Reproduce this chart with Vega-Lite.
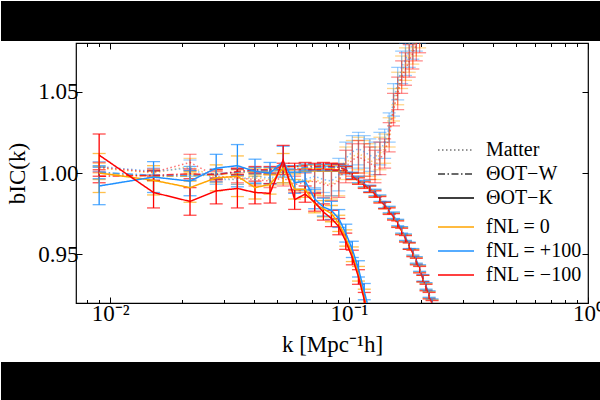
{
  "$schema": "https://vega.github.io/schema/vega-lite/v6.json",
  "background": "white",
  "padding": 0,
  "spacing": 0,
  "config": {
    "font": "Liberation Serif",
    "view": {"stroke": null},
    "axis": {
      "domain": false,
      "grid": false,
      "labelFlush": false,
      "tickColor": "black",
      "tickWidth": 1,
      "labelColor": "black",
      "titleColor": "black",
      "labelFont": "Liberation Serif",
      "titleFont": "Liberation Serif",
      "labelFontSize": 23,
      "titleFontSize": 23,
      "titleFontWeight": "normal"
    },
    "legend": {
      "labelFont": "Liberation Serif",
      "labelFontSize": 20,
      "labelColor": "black",
      "symbolType": "M-3.6,0H3.6",
      "symbolSize": 100,
      "symbolStrokeWidth": 1.5,
      "symbolOpacity": 1,
      "labelOffset": 20,
      "rowPadding": 4,
      "padding": 0,
      "orient": "none"
    }
  },
  "datasets": {
    "bias": [
      {"k":0.0090,"b":1.003,"err":0.003,"est":"matter","fnl":"0"},
      {"k":0.0152,"b":1.000,"err":0.002,"est":"matter","fnl":"0"},
      {"k":0.0216,"b":1.004,"err":0.005,"est":"matter","fnl":"0"},
      {"k":0.0278,"b":0.997,"err":0.003,"est":"matter","fnl":"0"},
      {"k":0.0341,"b":0.996,"err":0.003,"est":"matter","fnl":"0"},
      {"k":0.0404,"b":0.997,"err":0.004,"est":"matter","fnl":"0"},
      {"k":0.0467,"b":0.996,"err":0.004,"est":"matter","fnl":"0"},
      {"k":0.0530,"b":0.998,"err":0.005,"est":"matter","fnl":"0"},
      {"k":0.0592,"b":0.994,"err":0.005,"est":"matter","fnl":"0"},
      {"k":0.0655,"b":0.995,"err":0.006,"est":"matter","fnl":"0"},
      {"k":0.0718,"b":0.996,"err":0.007,"est":"matter","fnl":"0"},
      {"k":0.0781,"b":0.994,"err":0.008,"est":"matter","fnl":"0"},
      {"k":0.0844,"b":0.993,"err":0.009,"est":"matter","fnl":"0"},
      {"k":0.0906,"b":0.996,"err":0.010,"est":"matter","fnl":"0"},
      {"k":0.0969,"b":1.006,"err":0.010,"est":"matter","fnl":"0"},
      {"k":0.1032,"b":1.010,"err":0.010,"est":"matter","fnl":"0"},
      {"k":0.1095,"b":1.012,"err":0.010,"est":"matter","fnl":"0"},
      {"k":0.1158,"b":1.010,"err":0.010,"est":"matter","fnl":"0"},
      {"k":0.1221,"b":1.008,"err":0.010,"est":"matter","fnl":"0"},
      {"k":0.1284,"b":1.006,"err":0.010,"est":"matter","fnl":"0"},
      {"k":0.1346,"b":1.012,"err":0.010,"est":"matter","fnl":"0"},
      {"k":0.1409,"b":1.015,"err":0.009,"est":"matter","fnl":"0"},
      {"k":0.1472,"b":1.025,"err":0.009,"est":"matter","fnl":"0"},
      {"k":0.1535,"b":1.042,"err":0.010,"est":"matter","fnl":"0"},
      {"k":0.1598,"b":1.052,"err":0.010,"est":"matter","fnl":"0"},
      {"k":0.1660,"b":1.062,"err":0.010,"est":"matter","fnl":"0"},
      {"k":0.1723,"b":1.067,"err":0.010,"est":"matter","fnl":"0"},
      {"k":0.1786,"b":1.072,"err":0.010,"est":"matter","fnl":"0"},
      {"k":0.1849,"b":1.077,"err":0.010,"est":"matter","fnl":"0"},
      {"k":0.1912,"b":1.082,"err":0.010,"est":"matter","fnl":"0"},
      {"k":0.1974,"b":1.087,"err":0.010,"est":"matter","fnl":"0"},

      {"k":0.0090,"b":1.004,"err":0.003,"est":"matter","fnl":"+100"},
      {"k":0.0152,"b":1.001,"err":0.002,"est":"matter","fnl":"+100"},
      {"k":0.0216,"b":1.003,"err":0.005,"est":"matter","fnl":"+100"},
      {"k":0.0278,"b":0.996,"err":0.003,"est":"matter","fnl":"+100"},
      {"k":0.0341,"b":0.996,"err":0.003,"est":"matter","fnl":"+100"},
      {"k":0.0404,"b":0.998,"err":0.004,"est":"matter","fnl":"+100"},
      {"k":0.0467,"b":0.997,"err":0.004,"est":"matter","fnl":"+100"},
      {"k":0.0530,"b":0.999,"err":0.005,"est":"matter","fnl":"+100"},
      {"k":0.0592,"b":0.995,"err":0.005,"est":"matter","fnl":"+100"},
      {"k":0.0655,"b":0.996,"err":0.006,"est":"matter","fnl":"+100"},
      {"k":0.0718,"b":0.998,"err":0.007,"est":"matter","fnl":"+100"},
      {"k":0.0781,"b":0.996,"err":0.008,"est":"matter","fnl":"+100"},
      {"k":0.0844,"b":0.995,"err":0.009,"est":"matter","fnl":"+100"},
      {"k":0.0906,"b":0.999,"err":0.010,"est":"matter","fnl":"+100"},
      {"k":0.0969,"b":1.009,"err":0.010,"est":"matter","fnl":"+100"},
      {"k":0.1032,"b":1.013,"err":0.010,"est":"matter","fnl":"+100"},
      {"k":0.1095,"b":1.015,"err":0.010,"est":"matter","fnl":"+100"},
      {"k":0.1158,"b":1.013,"err":0.010,"est":"matter","fnl":"+100"},
      {"k":0.1221,"b":1.011,"err":0.010,"est":"matter","fnl":"+100"},
      {"k":0.1284,"b":1.009,"err":0.010,"est":"matter","fnl":"+100"},
      {"k":0.1346,"b":1.015,"err":0.010,"est":"matter","fnl":"+100"},
      {"k":0.1409,"b":1.018,"err":0.009,"est":"matter","fnl":"+100"},
      {"k":0.1472,"b":1.028,"err":0.009,"est":"matter","fnl":"+100"},
      {"k":0.1535,"b":1.045,"err":0.010,"est":"matter","fnl":"+100"},
      {"k":0.1598,"b":1.055,"err":0.010,"est":"matter","fnl":"+100"},
      {"k":0.1660,"b":1.065,"err":0.010,"est":"matter","fnl":"+100"},
      {"k":0.1723,"b":1.070,"err":0.010,"est":"matter","fnl":"+100"},
      {"k":0.1786,"b":1.075,"err":0.010,"est":"matter","fnl":"+100"},
      {"k":0.1849,"b":1.080,"err":0.010,"est":"matter","fnl":"+100"},
      {"k":0.1912,"b":1.085,"err":0.010,"est":"matter","fnl":"+100"},
      {"k":0.1974,"b":1.090,"err":0.010,"est":"matter","fnl":"+100"},

      {"k":0.0090,"b":1.0035,"err":0.003,"est":"matter","fnl":"-100"},
      {"k":0.0152,"b":1.0005,"err":0.002,"est":"matter","fnl":"-100"},
      {"k":0.0216,"b":1.0065,"err":0.005,"est":"matter","fnl":"-100"},
      {"k":0.0278,"b":0.998,"err":0.003,"est":"matter","fnl":"-100"},
      {"k":0.0341,"b":0.997,"err":0.003,"est":"matter","fnl":"-100"},
      {"k":0.0404,"b":0.996,"err":0.004,"est":"matter","fnl":"-100"},
      {"k":0.0467,"b":0.995,"err":0.004,"est":"matter","fnl":"-100"},
      {"k":0.0530,"b":0.997,"err":0.005,"est":"matter","fnl":"-100"},
      {"k":0.0592,"b":0.993,"err":0.005,"est":"matter","fnl":"-100"},
      {"k":0.0655,"b":0.994,"err":0.006,"est":"matter","fnl":"-100"},
      {"k":0.0718,"b":0.995,"err":0.007,"est":"matter","fnl":"-100"},
      {"k":0.0781,"b":0.993,"err":0.008,"est":"matter","fnl":"-100"},
      {"k":0.0844,"b":0.992,"err":0.009,"est":"matter","fnl":"-100"},
      {"k":0.0906,"b":0.995,"err":0.010,"est":"matter","fnl":"-100"},
      {"k":0.0969,"b":1.004,"err":0.010,"est":"matter","fnl":"-100"},
      {"k":0.1032,"b":1.008,"err":0.010,"est":"matter","fnl":"-100"},
      {"k":0.1095,"b":1.010,"err":0.010,"est":"matter","fnl":"-100"},
      {"k":0.1158,"b":1.008,"err":0.010,"est":"matter","fnl":"-100"},
      {"k":0.1221,"b":1.006,"err":0.010,"est":"matter","fnl":"-100"},
      {"k":0.1284,"b":1.004,"err":0.010,"est":"matter","fnl":"-100"},
      {"k":0.1346,"b":1.009,"err":0.010,"est":"matter","fnl":"-100"},
      {"k":0.1409,"b":1.012,"err":0.009,"est":"matter","fnl":"-100"},
      {"k":0.1472,"b":1.022,"err":0.009,"est":"matter","fnl":"-100"},
      {"k":0.1535,"b":1.039,"err":0.010,"est":"matter","fnl":"-100"},
      {"k":0.1598,"b":1.049,"err":0.010,"est":"matter","fnl":"-100"},
      {"k":0.1660,"b":1.059,"err":0.010,"est":"matter","fnl":"-100"},
      {"k":0.1723,"b":1.064,"err":0.010,"est":"matter","fnl":"-100"},
      {"k":0.1786,"b":1.069,"err":0.010,"est":"matter","fnl":"-100"},
      {"k":0.1849,"b":1.074,"err":0.010,"est":"matter","fnl":"-100"},
      {"k":0.1912,"b":1.079,"err":0.010,"est":"matter","fnl":"-100"},
      {"k":0.1974,"b":1.084,"err":0.010,"est":"matter","fnl":"-100"},

      {"k":0.0090,"b":1.000,"err":0.004,"est":"otw","fnl":"0"},
      {"k":0.0152,"b":0.998,"err":0.003,"est":"otw","fnl":"0"},
      {"k":0.0216,"b":0.998,"err":0.003,"est":"otw","fnl":"0"},
      {"k":0.0278,"b":0.999,"err":0.003,"est":"otw","fnl":"0"},
      {"k":0.0341,"b":1.000,"err":0.002,"est":"otw","fnl":"0"},
      {"k":0.0404,"b":1.001,"err":0.002,"est":"otw","fnl":"0"},
      {"k":0.0467,"b":1.001,"err":0.002,"est":"otw","fnl":"0"},
      {"k":0.0530,"b":1.002,"err":0.002,"est":"otw","fnl":"0"},
      {"k":0.0592,"b":1.002,"err":0.002,"est":"otw","fnl":"0"},
      {"k":0.0655,"b":1.003,"err":0.002,"est":"otw","fnl":"0"},
      {"k":0.0718,"b":1.003,"err":0.002,"est":"otw","fnl":"0"},
      {"k":0.0781,"b":1.003,"err":0.002,"est":"otw","fnl":"0"},
      {"k":0.0844,"b":1.003,"err":0.002,"est":"otw","fnl":"0"},
      {"k":0.0906,"b":1.003,"err":0.002,"est":"otw","fnl":"0"},
      {"k":0.0969,"b":1.002,"err":0.002,"est":"otw","fnl":"0"},
      {"k":0.1032,"b":0.998,"err":0.002,"est":"otw","fnl":"0"},
      {"k":0.1095,"b":0.9955,"err":0.002,"est":"otw","fnl":"0"},
      {"k":0.1158,"b":0.993,"err":0.002,"est":"otw","fnl":"0"},
      {"k":0.1221,"b":0.990,"err":0.002,"est":"otw","fnl":"0"},
      {"k":0.1284,"b":0.9875,"err":0.002,"est":"otw","fnl":"0"},
      {"k":0.1346,"b":0.984,"err":0.002,"est":"otw","fnl":"0"},
      {"k":0.1409,"b":0.980,"err":0.002,"est":"otw","fnl":"0"},
      {"k":0.1472,"b":0.977,"err":0.002,"est":"otw","fnl":"0"},
      {"k":0.1535,"b":0.9735,"err":0.002,"est":"otw","fnl":"0"},
      {"k":0.1598,"b":0.969,"err":0.002,"est":"otw","fnl":"0"},
      {"k":0.1660,"b":0.9645,"err":0.002,"est":"otw","fnl":"0"},
      {"k":0.1723,"b":0.960,"err":0.002,"est":"otw","fnl":"0"},
      {"k":0.1786,"b":0.955,"err":0.002,"est":"otw","fnl":"0"},
      {"k":0.1849,"b":0.951,"err":0.002,"est":"otw","fnl":"0"},
      {"k":0.1912,"b":0.946,"err":0.002,"est":"otw","fnl":"0"},
      {"k":0.1974,"b":0.941,"err":0.002,"est":"otw","fnl":"0"},
      {"k":0.2037,"b":0.935,"err":0.002,"est":"otw","fnl":"0"},
      {"k":0.2100,"b":0.930,"err":0.002,"est":"otw","fnl":"0"},
      {"k":0.2163,"b":0.925,"err":0.002,"est":"otw","fnl":"0"},
      {"k":0.2226,"b":0.920,"err":0.002,"est":"otw","fnl":"0"},
      {"k":0.2288,"b":0.915,"err":0.002,"est":"otw","fnl":"0"},

      {"k":0.0090,"b":1.0005,"err":0.004,"est":"otw","fnl":"+100"},
      {"k":0.0152,"b":0.9985,"err":0.003,"est":"otw","fnl":"+100"},
      {"k":0.0216,"b":0.9985,"err":0.003,"est":"otw","fnl":"+100"},
      {"k":0.0278,"b":0.9995,"err":0.003,"est":"otw","fnl":"+100"},
      {"k":0.0341,"b":1.0005,"err":0.002,"est":"otw","fnl":"+100"},
      {"k":0.0404,"b":1.0015,"err":0.002,"est":"otw","fnl":"+100"},
      {"k":0.0467,"b":1.0015,"err":0.002,"est":"otw","fnl":"+100"},
      {"k":0.0530,"b":1.0025,"err":0.002,"est":"otw","fnl":"+100"},
      {"k":0.0592,"b":1.0025,"err":0.002,"est":"otw","fnl":"+100"},
      {"k":0.0655,"b":1.0035,"err":0.002,"est":"otw","fnl":"+100"},
      {"k":0.0718,"b":1.0035,"err":0.002,"est":"otw","fnl":"+100"},
      {"k":0.0781,"b":1.0035,"err":0.002,"est":"otw","fnl":"+100"},
      {"k":0.0844,"b":1.0035,"err":0.002,"est":"otw","fnl":"+100"},
      {"k":0.0906,"b":1.0035,"err":0.002,"est":"otw","fnl":"+100"},
      {"k":0.0969,"b":1.0025,"err":0.002,"est":"otw","fnl":"+100"},
      {"k":0.1032,"b":0.9985,"err":0.002,"est":"otw","fnl":"+100"},
      {"k":0.1095,"b":0.996,"err":0.002,"est":"otw","fnl":"+100"},
      {"k":0.1158,"b":0.9935,"err":0.002,"est":"otw","fnl":"+100"},
      {"k":0.1221,"b":0.9905,"err":0.002,"est":"otw","fnl":"+100"},
      {"k":0.1284,"b":0.988,"err":0.002,"est":"otw","fnl":"+100"},
      {"k":0.1346,"b":0.9845,"err":0.002,"est":"otw","fnl":"+100"},
      {"k":0.1409,"b":0.9805,"err":0.002,"est":"otw","fnl":"+100"},
      {"k":0.1472,"b":0.9775,"err":0.002,"est":"otw","fnl":"+100"},
      {"k":0.1535,"b":0.974,"err":0.002,"est":"otw","fnl":"+100"},
      {"k":0.1598,"b":0.9695,"err":0.002,"est":"otw","fnl":"+100"},
      {"k":0.1660,"b":0.965,"err":0.002,"est":"otw","fnl":"+100"},
      {"k":0.1723,"b":0.9605,"err":0.002,"est":"otw","fnl":"+100"},
      {"k":0.1786,"b":0.9555,"err":0.002,"est":"otw","fnl":"+100"},
      {"k":0.1849,"b":0.9515,"err":0.002,"est":"otw","fnl":"+100"},
      {"k":0.1912,"b":0.9465,"err":0.002,"est":"otw","fnl":"+100"},
      {"k":0.1974,"b":0.9415,"err":0.002,"est":"otw","fnl":"+100"},
      {"k":0.2037,"b":0.9355,"err":0.002,"est":"otw","fnl":"+100"},
      {"k":0.2100,"b":0.9305,"err":0.002,"est":"otw","fnl":"+100"},
      {"k":0.2163,"b":0.9255,"err":0.002,"est":"otw","fnl":"+100"},
      {"k":0.2226,"b":0.9205,"err":0.002,"est":"otw","fnl":"+100"},
      {"k":0.2288,"b":0.9155,"err":0.002,"est":"otw","fnl":"+100"},

      {"k":0.0090,"b":0.998,"err":0.004,"est":"otw","fnl":"-100"},
      {"k":0.0152,"b":0.9985,"err":0.003,"est":"otw","fnl":"-100"},
      {"k":0.0216,"b":0.9995,"err":0.003,"est":"otw","fnl":"-100"},
      {"k":0.0278,"b":0.999,"err":0.003,"est":"otw","fnl":"-100"},
      {"k":0.0341,"b":1.001,"err":0.002,"est":"otw","fnl":"-100"},
      {"k":0.0404,"b":1.002,"err":0.002,"est":"otw","fnl":"-100"},
      {"k":0.0467,"b":1.002,"err":0.002,"est":"otw","fnl":"-100"},
      {"k":0.0530,"b":1.004,"err":0.002,"est":"otw","fnl":"-100"},
      {"k":0.0592,"b":1.004,"err":0.002,"est":"otw","fnl":"-100"},
      {"k":0.0655,"b":1.0045,"err":0.002,"est":"otw","fnl":"-100"},
      {"k":0.0718,"b":1.004,"err":0.002,"est":"otw","fnl":"-100"},
      {"k":0.0781,"b":1.0045,"err":0.002,"est":"otw","fnl":"-100"},
      {"k":0.0844,"b":1.004,"err":0.002,"est":"otw","fnl":"-100"},
      {"k":0.0906,"b":1.0035,"err":0.002,"est":"otw","fnl":"-100"},
      {"k":0.0969,"b":1.002,"err":0.002,"est":"otw","fnl":"-100"},
      {"k":0.1032,"b":0.998,"err":0.002,"est":"otw","fnl":"-100"},
      {"k":0.1095,"b":0.995,"err":0.002,"est":"otw","fnl":"-100"},
      {"k":0.1158,"b":0.9925,"err":0.002,"est":"otw","fnl":"-100"},
      {"k":0.1221,"b":0.990,"err":0.002,"est":"otw","fnl":"-100"},
      {"k":0.1284,"b":0.987,"err":0.002,"est":"otw","fnl":"-100"},
      {"k":0.1346,"b":0.9835,"err":0.002,"est":"otw","fnl":"-100"},
      {"k":0.1409,"b":0.980,"err":0.002,"est":"otw","fnl":"-100"},
      {"k":0.1472,"b":0.9765,"err":0.002,"est":"otw","fnl":"-100"},
      {"k":0.1535,"b":0.973,"err":0.002,"est":"otw","fnl":"-100"},
      {"k":0.1598,"b":0.9685,"err":0.002,"est":"otw","fnl":"-100"},
      {"k":0.1660,"b":0.964,"err":0.002,"est":"otw","fnl":"-100"},
      {"k":0.1723,"b":0.9595,"err":0.002,"est":"otw","fnl":"-100"},
      {"k":0.1786,"b":0.955,"err":0.002,"est":"otw","fnl":"-100"},
      {"k":0.1849,"b":0.9505,"err":0.002,"est":"otw","fnl":"-100"},
      {"k":0.1912,"b":0.9455,"err":0.002,"est":"otw","fnl":"-100"},
      {"k":0.1974,"b":0.9405,"err":0.002,"est":"otw","fnl":"-100"},
      {"k":0.2037,"b":0.935,"err":0.002,"est":"otw","fnl":"-100"},
      {"k":0.2100,"b":0.9295,"err":0.002,"est":"otw","fnl":"-100"},
      {"k":0.2163,"b":0.9245,"err":0.002,"est":"otw","fnl":"-100"},
      {"k":0.2226,"b":0.9195,"err":0.002,"est":"otw","fnl":"-100"},
      {"k":0.2288,"b":0.9145,"err":0.002,"est":"otw","fnl":"-100"},

      {"k":0.0090,"b":1.000,"err":0.012,"est":"otk","fnl":"0"},
      {"k":0.0152,"b":0.9955,"err":0.009,"est":"otk","fnl":"0"},
      {"k":0.0216,"b":0.991,"err":0.009,"est":"otk","fnl":"0"},
      {"k":0.0278,"b":0.997,"err":0.008,"est":"otk","fnl":"0"},
      {"k":0.0341,"b":0.998,"err":0.0125,"est":"otk","fnl":"0"},
      {"k":0.0404,"b":0.991,"err":0.007,"est":"otk","fnl":"0"},
      {"k":0.0467,"b":0.993,"err":0.006,"est":"otk","fnl":"0"},
      {"k":0.0530,"b":1.003,"err":0.009,"est":"otk","fnl":"0"},
      {"k":0.0592,"b":0.990,"err":0.006,"est":"otk","fnl":"0"},
      {"k":0.0655,"b":0.990,"err":0.005,"est":"otk","fnl":"0"},
      {"k":0.0718,"b":0.981,"err":0.0055,"est":"otk","fnl":"0"},
      {"k":0.0781,"b":0.978,"err":0.005,"est":"otk","fnl":"0"},
      {"k":0.0844,"b":0.975,"err":0.005,"est":"otk","fnl":"0"},
      {"k":0.0906,"b":0.969,"err":0.005,"est":"otk","fnl":"0"},
      {"k":0.0969,"b":0.960,"err":0.005,"est":"otk","fnl":"0"},
      {"k":0.1032,"b":0.950,"err":0.0045,"est":"otk","fnl":"0"},
      {"k":0.1095,"b":0.938,"err":0.0045,"est":"otk","fnl":"0"},
      {"k":0.1158,"b":0.924,"err":0.0045,"est":"otk","fnl":"0"},
      {"k":0.1221,"b":0.910,"err":0.0045,"est":"otk","fnl":"0"},

      {"k":0.0090,"b":0.992,"err":0.0115,"est":"otk","fnl":"+100"},
      {"k":0.0152,"b":0.9975,"err":0.0095,"est":"otk","fnl":"+100"},
      {"k":0.0216,"b":0.995,"err":0.009,"est":"otk","fnl":"+100"},
      {"k":0.0278,"b":1.003,"err":0.0085,"est":"otk","fnl":"+100"},
      {"k":0.0341,"b":1.0045,"err":0.013,"est":"otk","fnl":"+100"},
      {"k":0.0404,"b":1.001,"err":0.0075,"est":"otk","fnl":"+100"},
      {"k":0.0467,"b":1.000,"err":0.0065,"est":"otk","fnl":"+100"},
      {"k":0.0530,"b":1.007,"err":0.0095,"est":"otk","fnl":"+100"},
      {"k":0.0592,"b":0.994,"err":0.0065,"est":"otk","fnl":"+100"},
      {"k":0.0655,"b":0.995,"err":0.0055,"est":"otk","fnl":"+100"},
      {"k":0.0718,"b":0.984,"err":0.006,"est":"otk","fnl":"+100"},
      {"k":0.0781,"b":0.979,"err":0.0055,"est":"otk","fnl":"+100"},
      {"k":0.0844,"b":0.977,"err":0.0055,"est":"otk","fnl":"+100"},
      {"k":0.0906,"b":0.972,"err":0.0055,"est":"otk","fnl":"+100"},
      {"k":0.0969,"b":0.963,"err":0.0055,"est":"otk","fnl":"+100"},
      {"k":0.1032,"b":0.953,"err":0.005,"est":"otk","fnl":"+100"},
      {"k":0.1095,"b":0.941,"err":0.005,"est":"otk","fnl":"+100"},
      {"k":0.1158,"b":0.927,"err":0.005,"est":"otk","fnl":"+100"},
      {"k":0.1221,"b":0.914,"err":0.005,"est":"otk","fnl":"+100"},

      {"k":0.0090,"b":1.011,"err":0.013,"est":"otk","fnl":"-100"},
      {"k":0.0152,"b":0.988,"err":0.0095,"est":"otk","fnl":"-100"},
      {"k":0.0216,"b":0.9825,"err":0.0085,"est":"otk","fnl":"-100"},
      {"k":0.0278,"b":0.989,"err":0.008,"est":"otk","fnl":"-100"},
      {"k":0.0341,"b":0.9905,"err":0.012,"est":"otk","fnl":"-100"},
      {"k":0.0404,"b":0.988,"err":0.007,"est":"otk","fnl":"-100"},
      {"k":0.0467,"b":0.9875,"err":0.006,"est":"otk","fnl":"-100"},
      {"k":0.0530,"b":1.008,"err":0.009,"est":"otk","fnl":"-100"},
      {"k":0.0592,"b":0.9836,"err":0.006,"est":"otk","fnl":"-100"},
      {"k":0.0655,"b":0.987,"err":0.005,"est":"otk","fnl":"-100"},
      {"k":0.0718,"b":0.982,"err":0.0055,"est":"otk","fnl":"-100"},
      {"k":0.0781,"b":0.976,"err":0.005,"est":"otk","fnl":"-100"},
      {"k":0.0844,"b":0.972,"err":0.005,"est":"otk","fnl":"-100"},
      {"k":0.0906,"b":0.967,"err":0.005,"est":"otk","fnl":"-100"},
      {"k":0.0969,"b":0.958,"err":0.005,"est":"otk","fnl":"-100"},
      {"k":0.1032,"b":0.948,"err":0.0045,"est":"otk","fnl":"-100"},
      {"k":0.1095,"b":0.936,"err":0.0045,"est":"otk","fnl":"-100"},
      {"k":0.1158,"b":0.922,"err":0.0045,"est":"otk","fnl":"-100"},
      {"k":0.1221,"b":0.908,"err":0.0045,"est":"otk","fnl":"-100"}
    ]
  },
  "vconcat": [
    {
      "width": 600,
      "height": 40,
      "view": {"fill": "black", "stroke": null},
      "data": {"values": [{}]},
      "mark": {"type": "rule", "opacity": 0},
      "encoding": {}
    },
    {
      "spacing": 0,
      "hconcat": [
        {
          "width": 5,
          "height": 318,
          "data": {"values": [{}]},
          "mark": {"type": "rule", "opacity": 0},
          "encoding": {}
        },
        {
          "width": 512,
          "height": 260,
          "view": {"stroke": "black", "strokeWidth": 1.2},
          "data": {"name": "bias"},
          "resolve": {"axis": {"x": "independent", "y": "independent"}},
          "layer": [
            {
              "transform": [{"filter": "datum.est == 'matter'"}],
              "mark": {"type": "errorbar", "ticks": {"size": 13}, "thickness": 1.3, "opacity": 0.45, "clip": true},
              "encoding": {
                "x": {"field": "k", "type": "quantitative", "scale": {"type": "log", "domain": [0.0072, 1], "nice": false, "padding": 0}, "axis": null},
                "y": {"field": "b", "type": "quantitative", "scale": {"domain": [0.92, 1.08], "nice": false, "zero": false, "padding": 0}, "axis": null},
                "yError": {"field": "err"},
                "color": {"field": "fnl", "type": "nominal", "scale": {"domain": ["0", "+100", "-100"], "range": ["#ffa500", "#1e90ff", "#ff0000"]}}
              }
            },
            {
              "transform": [{"filter": "datum.est != 'matter'"}],
              "mark": {"type": "errorbar", "ticks": {"size": 13}, "thickness": 1.3, "clip": true},
              "encoding": {
                "x": {"field": "k", "type": "quantitative", "scale": {"type": "log", "domain": [0.0072, 1], "nice": false, "padding": 0}, "axis": null},
                "y": {"field": "b", "type": "quantitative", "scale": {"domain": [0.92, 1.08], "nice": false, "zero": false, "padding": 0}, "axis": null},
                "yError": {"field": "err"},
                "color": {"field": "fnl", "type": "nominal"}
              }
            },
            {
              "mark": {"type": "line", "strokeWidth": 1.5, "clip": true},
              "encoding": {
                "x": {
                  "field": "k", "type": "quantitative",
                  "scale": {"type": "log", "domain": [0.0072, 1], "nice": false, "padding": 0},
                  "axis": {
                    "orient": "bottom",
                    "values": [0.01, 0.1, 1],
                    "labelExpr": "datum.value < 0.05 ? '10⁻²' : datum.value < 0.5 ? '10⁻¹' : '10⁰'",
                    "tickSize": -6,
                    "labelPadding": 5,
                    "title": "k [Mpc⁻¹h]",
                    "titlePadding": 8
                  }
                },
                "y": {
                  "field": "b", "type": "quantitative",
                  "scale": {"domain": [0.92, 1.08], "nice": false, "zero": false, "padding": 0},
                  "axis": {
                    "orient": "left",
                    "values": [0.95, 1.0, 1.05],
                    "format": ".2f",
                    "tickSize": -6,
                    "labelPadding": 4,
                    "title": "bIC(k)",
                    "titlePadding": 8
                  }
                },
                "color": {
                  "field": "fnl", "type": "nominal",
                  "legend": {
                    "legendX": 445, "legendY": 216,
                    "title": null,
                    "symbolType": "M-3.6,0H3.6",
                    "labelExpr": "datum.value == '0' ? 'fNL = 0' : datum.value == '+100' ? 'fNL = +100' : 'fNL = −100'"
                  }
                },
                "strokeDash": {
                  "field": "est", "type": "nominal",
                  "scale": {"domain": ["matter", "otw", "otk"], "range": [[1.5, 2.5], [7, 2.5, 1.5, 2.5], [1, 0]]},
                  "legend": {
                    "legendX": 445, "legendY": 139,
                    "title": null,
                    "symbolType": "M-3.6,0H3.6",
                    "symbolStrokeColor": "black",
                    "labelExpr": "datum.value == 'matter' ? 'Matter' : datum.value == 'otw' ? 'ΘOT−W' : 'ΘOT−K'"
                  }
                },
                "opacity": {
                  "field": "est", "type": "nominal",
                  "scale": {"domain": ["matter", "otw", "otk"], "range": [0.55, 1, 1]},
                  "legend": null
                },
                "order": {"field": "k", "type": "quantitative"}
              }
            },
            {
              "mark": {"type": "point", "opacity": 0, "clip": true},
              "encoding": {
                "x": {"field": "k", "type": "quantitative", "axis": {"orient": "bottom", "values": [0.008, 0.009, 0.02, 0.03, 0.04, 0.05, 0.06, 0.07, 0.08, 0.09, 0.2, 0.3, 0.4, 0.5, 0.6, 0.7, 0.8, 0.9], "labels": false, "tickSize": -3.5, "title": null}},
                "y": {"field": "b", "type": "quantitative", "axis": {"orient": "right", "values": [0.95, 1.0, 1.05], "labels": false, "tickSize": -6, "title": null}}
              }
            },
            {
              "mark": {"type": "point", "opacity": 0, "clip": true},
              "encoding": {
                "x": {"field": "k", "type": "quantitative", "axis": {"orient": "top", "values": [0.01, 0.1, 1], "labels": false, "tickSize": -6, "title": null}},
                "y": {"field": "b", "type": "quantitative", "axis": null}
              }
            },
            {
              "mark": {"type": "point", "opacity": 0, "clip": true},
              "encoding": {
                "x": {"field": "k", "type": "quantitative", "axis": {"orient": "top", "values": [0.008, 0.009, 0.02, 0.03, 0.04, 0.05, 0.06, 0.07, 0.08, 0.09, 0.2, 0.3, 0.4, 0.5, 0.6, 0.7, 0.8, 0.9], "labels": false, "tickSize": -3.5, "title": null}},
                "y": {"field": "b", "type": "quantitative", "axis": null}
              }
            }
          ]
        }
      ]
    },
    {
      "width": 600,
      "height": 40,
      "view": {"fill": "black", "stroke": null},
      "data": {"values": [{}]},
      "mark": {"type": "rule", "opacity": 0},
      "encoding": {}
    }
  ]
}
